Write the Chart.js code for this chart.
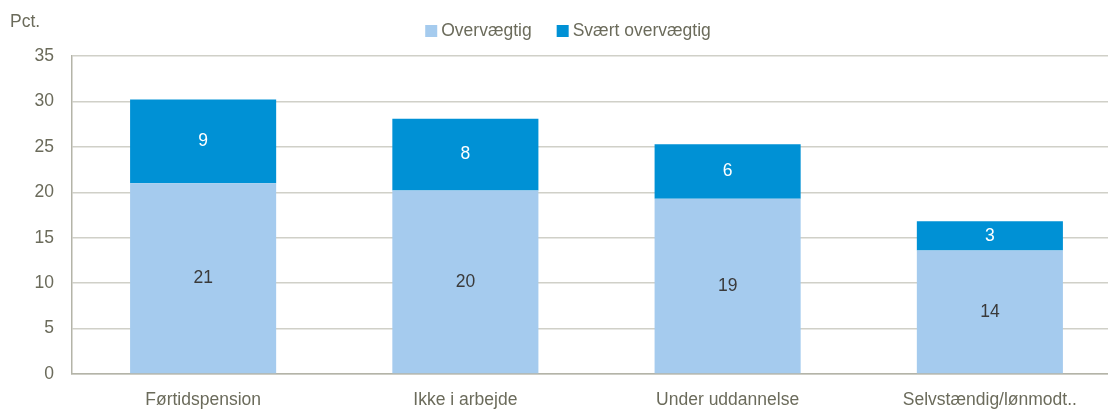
<!DOCTYPE html>
<html>
<head>
<meta charset="utf-8">
<script src="https://cdn.jsdelivr.net/npm/chart.js@4.4.1/dist/chart.umd.min.js"></script>
<style>
  html, body { margin: 0; padding: 0; background: #fff; overflow: hidden; }
  #wrap { position: absolute; left: 0; top: 0; width: 1121px; height: 420px; }
</style>
</head>
<body>
<div id="wrap"><canvas id="chart"></canvas></div>
<script>
const categories = ['Førtidspension', 'Ikke i arbejde', 'Under uddannelse', 'Selvstændig/lønmodt..'];
const overvaegtig = [21.0, 20.2, 19.3, 13.6];
const svaertOvervaegtig = [9.2, 7.9, 6.0, 3.2];
const yTicks = [0, 5, 10, 15, 20, 25, 30, 35];

const textColor = '#6b6b5b';
const fontFamily = '"Liberation Sans", Arial, sans-serif';
const fontSize = 17.5;

// Values written inside the bars, rounded
const barLabels = {
  id: 'barLabels',
  afterDatasetsDraw(chart) {
    const ctx = chart.ctx;
    ctx.save();
    ctx.font = fontSize + 'px ' + fontFamily;
    ctx.textAlign = 'center';
    ctx.textBaseline = 'middle';
    chart.data.datasets.forEach((ds, i) => {
      const meta = chart.getDatasetMeta(i);
      meta.data.forEach((bar, j) => {
        const { x, y, base } = bar.getProps(['x', 'y', 'base'], true);
        ctx.fillStyle = i === 0 ? '#3a3a3a' : '#ffffff';
        ctx.fillText(Math.round(ds.data[j]), x, (y + base) / 2);
      });
    });
    ctx.restore();
  }
};

// "Pct." unit label and the legend row at the top
const header = {
  id: 'header',
  afterDraw(chart) {
    const ctx = chart.ctx;
    ctx.save();
    ctx.font = fontSize + 'px ' + fontFamily;
    ctx.fillStyle = textColor;
    ctx.textAlign = 'left';
    ctx.textBaseline = 'middle';
    ctx.fillText('Pct.', 10, 22);

    // legend, centred over the visible window
    const items = chart.data.datasets.map(ds => ({ text: ds.label, color: ds.backgroundColor }));
    const gap = 25, box = 12, textOff = 16;
    const widths = items.map(it => textOff + ctx.measureText(it.text).width);
    const total = widths.reduce((a, b) => a + b, 0) + gap * (items.length - 1);
    let x = 568 - total / 2;
    const y = 31;
    items.forEach((it, i) => {
      ctx.fillStyle = it.color;
      ctx.fillRect(x, y - box / 2, box, box);
      ctx.fillStyle = textColor;
      ctx.fillText(it.text, x + textOff, y);
      x += widths[i] + gap;
    });
    ctx.restore();
  }
};

new Chart(document.getElementById('chart'), {
  type: 'bar',
  data: {
    labels: categories,
    datasets: [
      { label: 'Overvægtig', data: overvaegtig, backgroundColor: '#a5cbee' },
      { label: 'Svært overvægtig', data: svaertOvervaegtig, backgroundColor: '#0091d5' }
    ]
  },
  options: {
    responsive: true,
    maintainAspectRatio: false,
    animation: false,
    layout: { padding: { top: 56, right: 0, left: 0, bottom: 0 } },
    datasets: { bar: { categoryPercentage: 1, barPercentage: 0.557 } },
    plugins: {
      legend: { display: false },
      tooltip: { enabled: false }
    },
    scales: {
      x: {
        stacked: true,
        grid: { display: false, drawTicks: false },
        border: { color: '#b4b4a8', width: 1.5 },
        ticks: { color: textColor, padding: 16, font: { family: fontFamily, size: fontSize }, maxRotation: 0 },
        afterFit(scale) { scale.height = 46; }
      },
      y: {
        stacked: true,
        min: 0,
        max: 35,
        afterBuildTicks(scale) { scale.ticks = yTicks.map(v => ({ value: v })); },
        grid: { color: '#d0d0c8', lineWidth: 1.5, drawTicks: false },
        border: { color: '#b4b4a8', width: 1.5 },
        ticks: { color: textColor, padding: 18, font: { family: fontFamily, size: fontSize } },
        afterFit(scale) { scale.width = 72; }
      }
    }
  },
  plugins: [barLabels, header]
});
</script>
</body>
</html>
